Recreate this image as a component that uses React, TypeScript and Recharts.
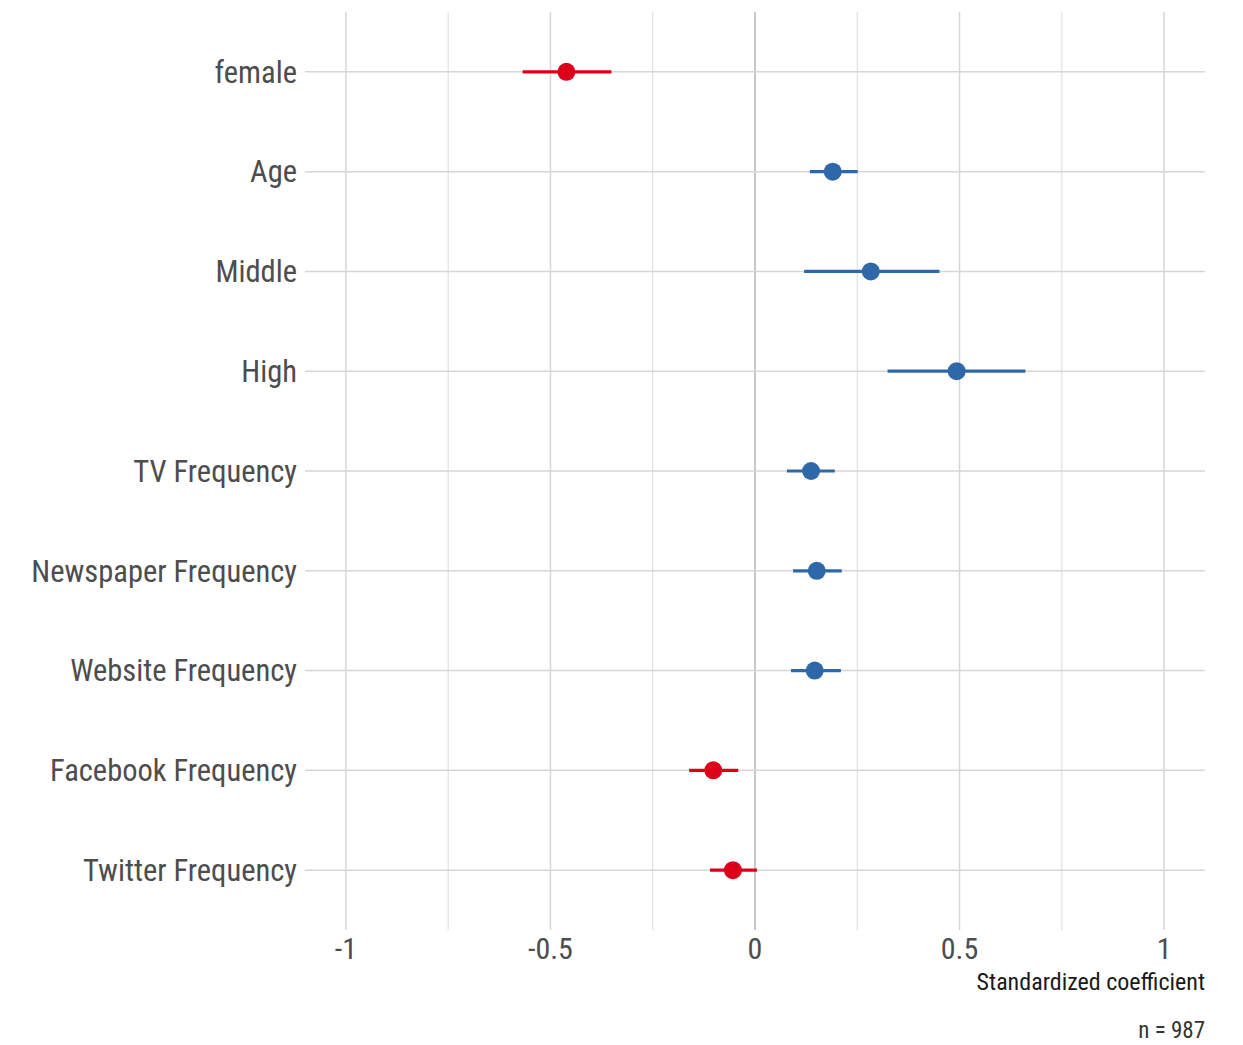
import { ComposedChart, Scatter, ErrorBar, XAxis, YAxis, ReferenceLine } from "recharts";

const terms = [
  "female",
  "Age",
  "Middle",
  "High",
  "TV Frequency",
  "Newspaper Frequency",
  "Website Frequency",
  "Facebook Frequency",
  "Twitter Frequency",
];
const estimates = [-0.461, 0.19, 0.283, 0.493, 0.137, 0.151, 0.146, -0.102, -0.054];
const lower = [-0.568, 0.134, 0.12, 0.324, 0.078, 0.093, 0.088, -0.161, -0.11];
const upper = [-0.351, 0.251, 0.451, 0.661, 0.195, 0.212, 0.21, -0.041, 0.005];
const xTicks = [-1, -0.5, 0, 0.5, 1];
const minorTicks = [-0.75, -0.25, 0.25, 0.75];

const RED = "#dc001b";
const BLUE = "#2e68a8";
const FONT = "'Roboto Condensed', 'Liberation Sans Narrow', Roboto, sans-serif";

const rows = terms.map((term, i) => ({
  term,
  pos: i,
  est: estimates[i],
  ci: [estimates[i] - lower[i], upper[i] - estimates[i]],
}));
const negRows = rows.filter((r) => r.est < 0);
const posRows = rows.filter((r) => r.est >= 0);

const dot = (color: string) => (props: any) => (
  <circle cx={props.cx} cy={props.cy} r={9} fill={color} />
);

export default function App() {
  return (
    <div style={{ position: "relative", width: 1227, height: 1037, fontFamily: FONT }}>
      <ComposedChart
        width={1227}
        height={1037}
        margin={{ top: 4, right: 30, bottom: 75, left: 0 }}
      >
        {minorTicks.map((t) => (
          <ReferenceLine key={"m" + t} x={t} stroke="#e0e0e0" strokeWidth={1.2} />
        ))}
        {xTicks.map((t) => (
          <ReferenceLine
            key={"x" + t}
            x={t}
            stroke={t === 0 ? "#c2c2c2" : "#d6d6d6"}
            strokeWidth={t === 0 ? 1.8 : 1.5}
          />
        ))}
        {rows.map((r) => (
          <ReferenceLine key={"y" + r.pos} y={r.pos} stroke="#d6d6d6" strokeWidth={1.5} />
        ))}
        <XAxis
          type="number"
          dataKey="est"
          domain={[-1.1, 1.1]}
          ticks={xTicks}
          tickFormatter={(v: number) => String(v)}
          axisLine={false}
          tickLine={false}
          height={40}
          tick={{ fontSize: 30, fill: "#4d4d4d", fontFamily: FONT }}
          tickMargin={2}
        />
        <YAxis
          type="number"
          dataKey="pos"
          domain={[-0.6, 8.6]}
          reversed
          ticks={terms.map((_, i) => i)}
          tickFormatter={(i: number) => terms[i]}
          interval={0}
          width={297}
          axisLine={false}
          tickLine={false}
          tick={{ fontSize: 30.5, fill: "#4d4d4d", fontFamily: FONT }}
        />
        <Scatter data={negRows} dataKey="est" shape={dot(RED)} isAnimationActive={false}>
          <ErrorBar dataKey="ci" direction="x" width={0} stroke={RED} strokeWidth={3.2} />
        </Scatter>
        <Scatter data={posRows} dataKey="est" shape={dot(BLUE)} isAnimationActive={false}>
          <ErrorBar dataKey="ci" direction="x" width={0} stroke={BLUE} strokeWidth={3.2} />
        </Scatter>
      </ComposedChart>
      <div
        style={{
          position: "absolute",
          right: 30,
          top: 960,
          fontSize: 24,
          color: "#1a1a1a",
        }}
      >
        Standardized coefficient
      </div>
      <div
        style={{
          position: "absolute",
          right: 30,
          top: 1009,
          fontSize: 23,
          color: "#333333",
        }}
      >
        n = 987
      </div>
    </div>
  );
}
